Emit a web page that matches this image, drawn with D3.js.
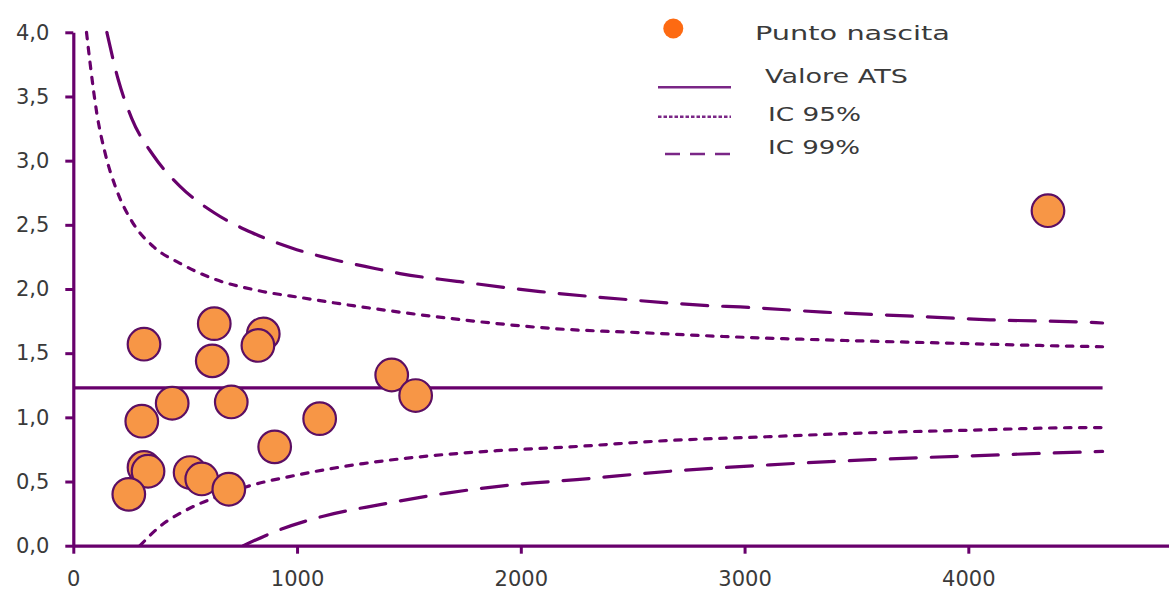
<!DOCTYPE html>
<html>
<head>
<meta charset="utf-8">
<script src="https://cdn.jsdelivr.net/npm/d3@7"></script>
<style>
  html, body { margin: 0; padding: 0; background: #ffffff; }
  svg { display: block; }
  .tick text { font-family: "DejaVu Sans", sans-serif; font-size: 21px; fill: #3a3a3a; }
</style>
</head>
<body>
<script>
// Axis ticks
const xTicks = [0, 1000, 2000, 3000, 4000];
const yTicks = [0, 0.5, 1, 1.5, 2, 2.5, 3, 3.5, 4];
const yTickLabels = ["0,0", "0,5", "1,0", "1,5", "2,0", "2,5", "3,0", "3,5", "4,0"];

// Birth points: number of births and observed ratio
const births = [316, 630, 849, 825, 621, 442, 706, 306, 1101, 900, 1423, 1530, 316, 334, 522, 574, 248, 695, 4356];
const ratios = [1.57, 1.73, 1.65, 1.56, 1.44, 1.11, 1.12, 0.97, 0.99, 0.77, 1.33, 1.17, 0.61, 0.58, 0.57, 0.52, 0.40, 0.44, 2.61];

// Reference value (ATS)
const atsValue = 1.23;
const atsRange = [0, 4600];

// Confidence limits 95%
const ci95UpperN = [59, 75, 105, 142, 194, 268, 358, 477, 626, 820, 1028, 1250, 1415, 1788, 2160, 2533, 2905, 3427, 3873, 4320, 4600];
const ci95UpperR = [4.00, 3.76, 3.37, 3.06, 2.77, 2.51, 2.33, 2.20, 2.08, 1.99, 1.93, 1.87, 1.83, 1.75, 1.69, 1.66, 1.63, 1.60, 1.58, 1.56, 1.55];
const ci95LowerN = [298, 387, 507, 641, 775, 998, 1296, 1594, 1892, 2220, 2667, 3114, 3561, 4008, 4513, 4600];
const ci95LowerR = [0.00, 0.15, 0.28, 0.38, 0.46, 0.55, 0.64, 0.70, 0.74, 0.77, 0.82, 0.85, 0.88, 0.90, 0.92, 0.92];

// Confidence limits 99%
const ci99UpperN = [150, 201, 261, 358, 477, 633, 797, 976, 1162, 1348, 1460, 1714, 2086, 2458, 2846, 2980, 3352, 3725, 4097, 4544, 4600];
const ci99UpperR = [4.00, 3.63, 3.33, 3.04, 2.80, 2.59, 2.44, 2.32, 2.23, 2.16, 2.12, 2.06, 1.98, 1.92, 1.87, 1.86, 1.82, 1.79, 1.76, 1.74, 1.735];
const ci99LowerN = [760, 924, 1117, 1371, 1669, 1966, 2250, 2667, 3114, 3561, 4008, 4513, 4600];
const ci99LowerR = [0.00, 0.125, 0.23, 0.32, 0.41, 0.475, 0.515, 0.58, 0.63, 0.67, 0.70, 0.73, 0.735];

// Legend entries
const legendLabels = ["Punto nascita", "Valore ATS", "IC 95%", "IC 99%"];

const W = 1169, H = 592;
const axisColor = "#68006c";
const lineColor = "#68006c";
const legendLineColor = "#7a2686";

const svg = d3.select("body").append("svg")
  .attr("width", W).attr("height", H);

const x = d3.scaleLinear().domain([0, 4900]).range([73.3, 1169.7]);
const y = d3.scaleLinear().domain([0, 4]).range([545.7, 32.3]);

svg.append("clipPath").attr("id", "plot-clip")
  .append("rect")
  .attr("x", x(0)).attr("y", y(4) - 2)
  .attr("width", x(4900) - x(0)).attr("height", y(0) - y(4) + 2);

// Curves
const curve = d3.line()
  .x(d => x(d[0]))
  .y(d => y(d[1]))
  .curve(d3.curveMonotoneX);

const zipPts = (ns, rs) => ns.map((n, i) => [n, rs[i]]);

const plot = svg.append("g").attr("clip-path", "url(#plot-clip)");

const shortDash = "6.5,8.5";
const longDash = "26,15";

const series = [
  { pts: zipPts(ci95UpperN, ci95UpperR), dash: shortDash },
  { pts: zipPts(ci95LowerN, ci95LowerR), dash: shortDash },
  { pts: zipPts(ci99UpperN, ci99UpperR), dash: longDash },
  { pts: zipPts(ci99LowerN, ci99LowerR), dash: longDash }
];

plot.selectAll("path.ci")
  .data(series)
  .join("path")
  .attr("class", "ci")
  .attr("d", d => curve(d.pts))
  .attr("fill", "none")
  .attr("stroke", lineColor)
  .attr("stroke-width", 3.2)
  .attr("stroke-linecap", "round")
  .attr("stroke-dasharray", d => d.dash);

// ATS reference line
plot.append("line")
  .attr("x1", x(atsRange[0])).attr("x2", x(atsRange[1]))
  .attr("y1", y(atsValue)).attr("y2", y(atsValue))
  .attr("stroke", lineColor)
  .attr("stroke-width", 3.2);

// Axes
const yAxis = d3.axisLeft(y)
  .tickValues(yTicks)
  .tickFormat((d, i) => yTickLabels[i])
  .tickSize(8)
  .tickSizeOuter(0)
  .tickPadding(16);

const xAxis = d3.axisBottom(x)
  .tickValues(xTicks)
  .tickFormat(d3.format("d"))
  .tickSize(8)
  .tickSizeOuter(0)
  .tickPadding(17);

const gx = svg.append("g")
  .attr("transform", `translate(0,${y(0)})`)
  .call(xAxis);

const gy = svg.append("g")
  .attr("transform", `translate(${x(0)},0)`)
  .call(yAxis);

[gx, gy].forEach(g => {
  g.select(".domain").attr("stroke", axisColor).attr("stroke-width", 3.2);
  g.selectAll(".tick line").attr("stroke", axisColor).attr("stroke-width", 3);
  g.selectAll(".tick text").attr("fill", "#3a3a3a");
});

// Birth points
const pts = births.map((n, i) => ({ n, r: ratios[i] }));
svg.append("g").selectAll("circle")
  .data(pts)
  .join("circle")
  .attr("cx", d => x(d.n))
  .attr("cy", d => y(d.r))
  .attr("r", 16.3)
  .attr("fill", "#f79646")
  .attr("stroke", "#5c0f63")
  .attr("stroke-width", 2.2);

// Legend
const legend = svg.append("g").attr("font-family", "DejaVu Sans, sans-serif").attr("font-size", 20).attr("fill", "#3a3a3a");

legend.append("circle")
  .attr("cx", 673.3).attr("cy", 28.5).attr("r", 10)
  .attr("fill", "#fd6a12");

const legendLines = [
  { y: 87.3, x1: 658, x2: 731, dash: null },
  { y: 116.7, x1: 658, x2: 731, dash: "3.5,2" },
  { y: 154, x1: 665, x2: 731, dash: "15,10" }
];
legend.selectAll("line")
  .data(legendLines)
  .join("line")
  .attr("x1", d => d.x1).attr("x2", d => d.x2)
  .attr("y1", d => d.y).attr("y2", d => d.y)
  .attr("stroke", legendLineColor)
  .attr("stroke-width", 2.6)
  .attr("stroke-dasharray", d => d.dash);

const legendText = [
  { x: 755, y: 39.5, w: 195 },
  { x: 765, y: 82.7, w: 143 },
  { x: 768, y: 120.7, w: 93 },
  { x: 768, y: 154, w: 92 }
];
legend.selectAll("text")
  .data(legendText)
  .join("text")
  .attr("x", d => d.x)
  .attr("y", d => d.y)
  .attr("textLength", d => d.w)
  .attr("lengthAdjust", "spacingAndGlyphs")
  .text((d, i) => legendLabels[i]);
</script>
</body>
</html>
